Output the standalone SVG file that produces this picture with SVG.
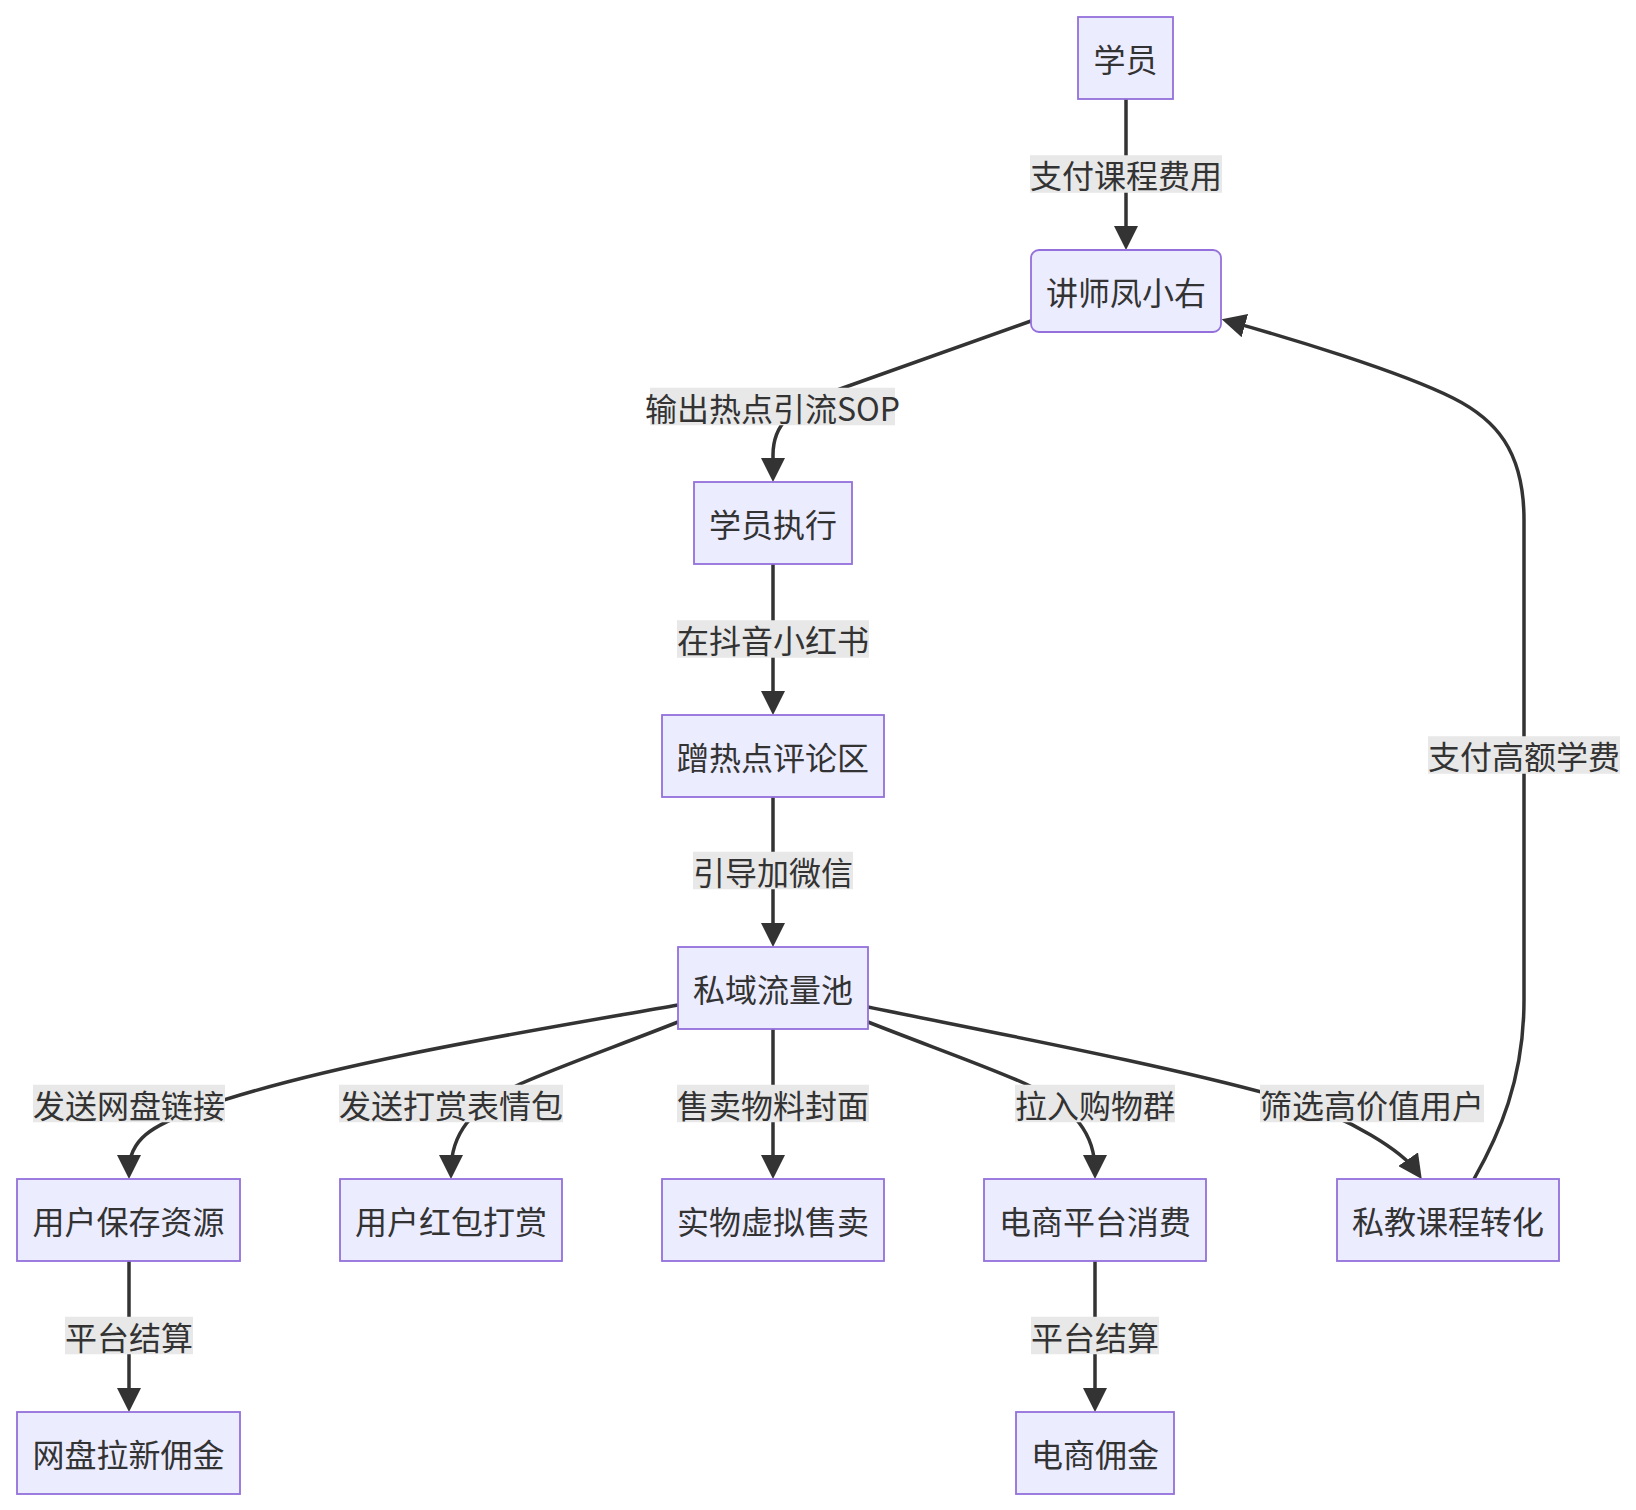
<svg xmlns="http://www.w3.org/2000/svg" width="1636" height="1510" viewBox="0 0 1636 1510">
<style>
.node rect{fill:#ECECFF;stroke:#9370DB;stroke-width:1.8}
.node text,.elabel text{font-family:"Noto Sans CJK SC","Noto Sans",sans-serif;font-size:32px;fill:#333;text-anchor:middle;dominant-baseline:central}
.edge{fill:none;stroke:#333;stroke-width:3.5;marker-end:url(#arrow)}
.elabel rect{fill:#e8e8e8}
</style>
<defs>
<marker id="arrow" viewBox="0 0 24 24" refX="16" refY="12" markerWidth="24" markerHeight="24" markerUnits="userSpaceOnUse" orient="auto">
<path d="M0,0 L24,12 L0,24 z" fill="#333"/>
</marker>
</defs>
<rect x="0" y="0" width="1636" height="1510" fill="#ffffff"/>
<g id="connectors">
<path class="edge" d="M1126,99 L1126,242"/>
<path class="edge" d="M1031,321 L840,389 C790,407 773,425 773,455 L773,474"/>
<path class="edge" d="M773,564 L773,707"/>
<path class="edge" d="M773,797 L773,939"/>
<path class="edge" d="M773,1029 L773,1171"/>
<path class="edge" d="M678,1005 C560,1026 330,1062 200,1108 C150,1126 129,1140 129,1171"/>
<path class="edge" d="M678,1022 C620,1045 560,1066 520,1084 C470,1108 451,1135 451,1171"/>
<path class="edge" d="M868,1022 C926,1045 986,1066 1026,1084 C1076,1108 1095,1135 1095,1171"/>
<path class="edge" d="M868,1007 C1000,1034 1180,1068 1290,1100 C1350,1117.4 1403,1151.8 1417.2,1172.4"/>
<path class="edge" d="M1474,1179 C1498.5,1135.5 1524,1080 1524,1000 L1524,520 C1524,450 1495,419 1453,398 C1399.4,371.2 1287.2,337.4 1229.4,321.4"/>
<path class="edge" d="M129,1261 L129,1404"/>
<path class="edge" d="M1095,1261 L1095,1404"/>
</g>
<g id="edge-labels">
<g class="elabel"><rect x="1030" y="155.25" width="192" height="37.5"/><text x="1126" y="174">支付课程费用</text></g>
<g class="elabel"><rect x="650" y="387.75" width="245" height="37.5"/><text x="772.5" y="406.5">输出热点引流SOP</text></g>
<g class="elabel"><rect x="677" y="620.25" width="192" height="37.5"/><text x="773" y="639">在抖音小红书</text></g>
<g class="elabel"><rect x="693" y="851.75" width="160" height="37.5"/><text x="773" y="870.5">引导加微信</text></g>
<g class="elabel"><rect x="33" y="1084.75" width="192" height="37.5"/><text x="129" y="1103.5">发送网盘链接</text></g>
<g class="elabel"><rect x="339" y="1084.75" width="224" height="37.5"/><text x="451" y="1103.5">发送打赏表情包</text></g>
<g class="elabel"><rect x="677" y="1084.75" width="192" height="37.5"/><text x="773" y="1103.5">售卖物料封面</text></g>
<g class="elabel"><rect x="1015" y="1084.75" width="160" height="37.5"/><text x="1095" y="1103.5">拉入购物群</text></g>
<g class="elabel"><rect x="1260" y="1084.75" width="224" height="37.5"/><text x="1372" y="1103.5">筛选高价值用户</text></g>
<g class="elabel"><rect x="65" y="1316.75" width="128" height="37.5"/><text x="129" y="1335.5">平台结算</text></g>
<g class="elabel"><rect x="1031" y="1316.75" width="128" height="37.5"/><text x="1095" y="1335.5">平台结算</text></g>
<g class="elabel"><rect x="1428" y="736.25" width="192" height="37.5"/><text x="1524" y="755">支付高额学费</text></g>
</g>
<g id="node-student" class="node"><rect x="1078" y="17" width="95" height="82"/><text x="1125.5" y="58">学员</text></g>
<g id="node-teacher" class="node"><rect x="1031" y="250" width="190" height="82" rx="8" ry="8"/><text x="1126" y="291">讲师凤小右</text></g>
<g id="node-execute" class="node"><rect x="694" y="482" width="158" height="82"/><text x="773" y="523">学员执行</text></g>
<g id="node-comment" class="node"><rect x="662" y="715" width="222" height="82"/><text x="773" y="756">蹭热点评论区</text></g>
<g id="node-pool" class="node"><rect x="678" y="947" width="190" height="82"/><text x="773" y="988">私域流量池</text></g>
<g id="node-save" class="node"><rect x="17" y="1179" width="223" height="82"/><text x="128.5" y="1220">用户保存资源</text></g>
<g id="node-reward" class="node"><rect x="340" y="1179" width="222" height="82"/><text x="451" y="1220">用户红包打赏</text></g>
<g id="node-sell" class="node"><rect x="662" y="1179" width="222" height="82"/><text x="773" y="1220">实物虚拟售卖</text></g>
<g id="node-ecom" class="node"><rect x="984" y="1179" width="222" height="82"/><text x="1095" y="1220">电商平台消费</text></g>
<g id="node-private" class="node"><rect x="1337" y="1179" width="222" height="82"/><text x="1448" y="1220">私教课程转化</text></g>
<g id="node-netdisk" class="node"><rect x="17" y="1412" width="223" height="82"/><text x="128.5" y="1453">网盘拉新佣金</text></g>
<g id="node-commission" class="node"><rect x="1016" y="1412" width="158" height="82"/><text x="1095" y="1453">电商佣金</text></g>
</svg>
